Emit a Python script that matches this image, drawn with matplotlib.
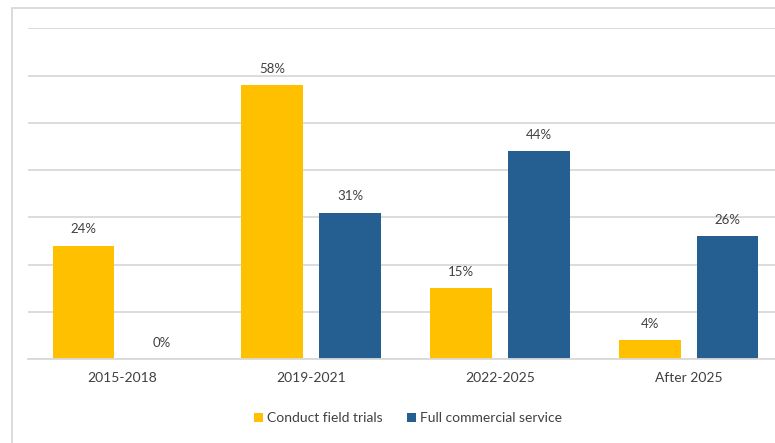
import matplotlib.pyplot as plt
from matplotlib.patches import Rectangle
import numpy as np

periods = ['2015-2018', '2019-2021', '2022-2025', 'After 2025']
field_trials = [24, 58, 15, 4]
commercial = [0, 31, 44, 26]
series_names = ['Conduct field trials', 'Full commercial service']

yellow = '#FFC000'
blue = '#255E91'
txt = '#404040'

plt.rcParams['font.family'] = ['Lato', 'DejaVu Sans']

W, H = 775, 443
fig = plt.figure(figsize=(W / 100, H / 100), dpi=100)

# outer chart border (cut off at right / bottom like the reference)
fig.patches.append(Rectangle((12 / W, -0.1), 1.2, 1 - 8 / H + 0.1,
                             transform=fig.transFigure, fill=False,
                             edgecolor='#D9D9D9', lw=1.3))

left, right = 28, 783
base, top = 359, 28.3
ax = fig.add_axes([left / W, 1 - base / H, (right - left) / W, (base - top) / H])
ax.set_clip_on(False)

x = np.arange(len(periods))
w = 0.328
off = 0.206
b1 = ax.bar(x - off, field_trials, w, color=yellow, label=series_names[0], zorder=2)
b2 = ax.bar(x + off, commercial, w, color=blue, label=series_names[1], zorder=2)

for bars, vals in ((b1, field_trials), (b2, commercial)):
    for r, v in zip(bars, vals):
        ax.text(r.get_x() + r.get_width() / 2, v + 2.2, f'{v}%', ha='center',
                va='bottom', fontsize=9.5, color=txt)

ax.set_xlim(-0.5, 3.5)
ax.set_ylim(0, 70)
ax.set_yticks(np.arange(0, 71, 10))
ax.yaxis.grid(True, color='#D9D9D9', lw=1.3, zorder=0)
ax.set_yticklabels([])
ax.tick_params(axis='y', length=0)
ax.set_xticks(x)
ax.set_xticklabels(periods, fontsize=10, color=txt)
ax.tick_params(axis='x', length=0, pad=9)
for s in ['top', 'right', 'left']:
    ax.spines[s].set_visible(False)
ax.spines['bottom'].set_color('#D9D9D9')
ax.spines['bottom'].set_linewidth(1.3)

fig.legend(handles=[b1, b2], labels=series_names, loc='center',
           bbox_to_anchor=(408 / W, 1 - 418 / H), ncol=2, frameon=False,
           fontsize=10, handlelength=0.6, handleheight=0.6, handletextpad=0.3,
           columnspacing=1.8, labelcolor=txt)

fig.savefig('out.png', dpi=100)
